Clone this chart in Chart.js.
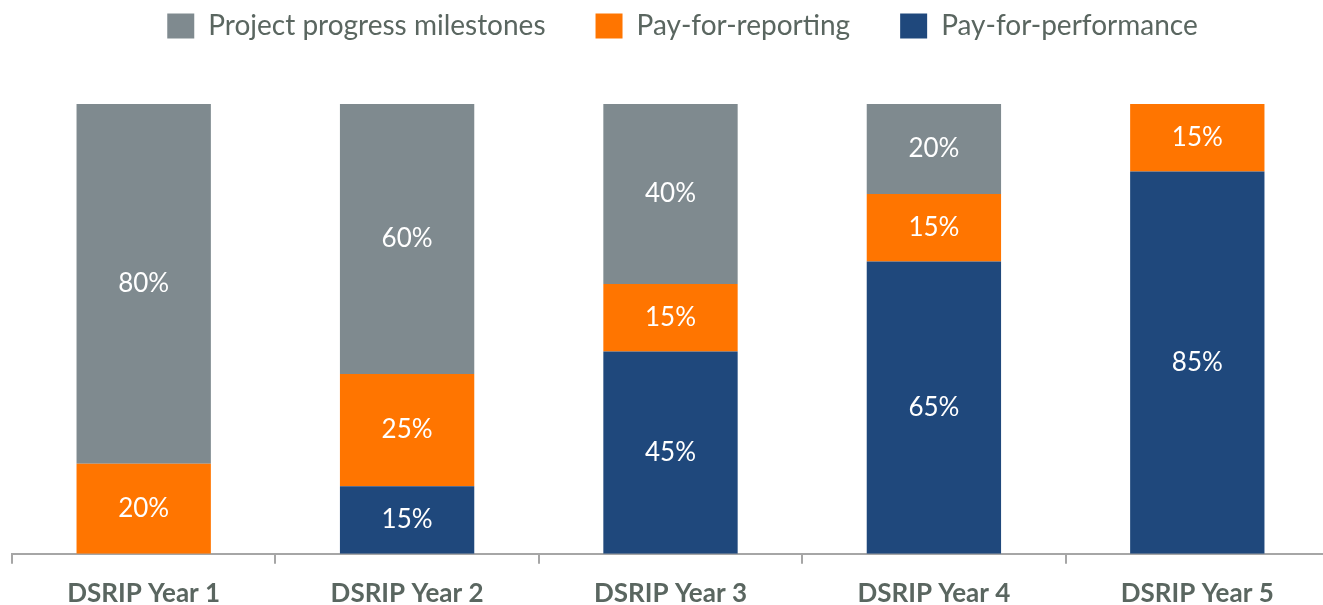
<!DOCTYPE html>
<html>
<head>
<meta charset="utf-8">
<script src="https://cdn.jsdelivr.net/npm/chart.js@4"></script>
<style>
  html, body { margin: 0; padding: 0; background: #fff; overflow: hidden; }
  #wrap { width: 1332px; height: 605px; }
</style>
</head>
<body>
<div id="wrap"><canvas id="chartDsrip"></canvas></div>
<script>
const years = ["DSRIP Year 1", "DSRIP Year 2", "DSRIP Year 3", "DSRIP Year 4", "DSRIP Year 5"];
const payForPerformance = [0, 15, 45, 65, 85];
const payForReporting = [20, 25, 15, 15, 15];
const projectMilestones = [80, 60, 40, 20, 0];

const textColor = "#5a6660";
const fontFamily = "Lato, 'Open Sans', sans-serif";

// white % labels in the middle of each segment
const segmentLabels = {
  id: "segmentLabels",
  afterDatasetsDraw(chart) {
    const ctx = chart.ctx;
    ctx.save();
    ctx.fillStyle = "#ffffff";
    ctx.font = "26px " + fontFamily;
    ctx.textAlign = "center";
    ctx.textBaseline = "middle";
    chart.data.datasets.forEach((ds, i) => {
      const meta = chart.getDatasetMeta(i);
      meta.data.forEach((bar, j) => {
        const v = ds.data[j];
        if (!v) return;
        ctx.fillText(v + "%", bar.x, (bar.y + bar.base) / 2);
      });
    });
    ctx.restore();
  },
};

// push the plot down below the legend, nudge legend a bit right
const legendTweak = {
  id: "legendTweak",
  beforeInit(chart) {
    const lg = chart.legend;
    const origFit = lg.fit;
    lg.fit = function () {
      origFit.call(lg);
      this.height += 54;
    };
    const origDraw = lg.draw;
    lg.draw = function () {
      chart.ctx.save();
      chart.ctx.translate(12, 0);
      origDraw.apply(lg, arguments);
      chart.ctx.restore();
    };
  },
};

const ctx = document.getElementById("chartDsrip").getContext("2d");
const dsripChart = new Chart(ctx, {
  type: "bar",
  data: {
    labels: years,
    datasets: [
      {
        label: "Pay-for-performance",
        data: payForPerformance,
        backgroundColor: "#1f487c",
      },
      {
        label: "Pay-for-reporting",
        data: payForReporting,
        backgroundColor: "#ff7500",
      },
      {
        label: "Project progress milestones",
        data: projectMilestones,
        backgroundColor: "#7f8a8f",
      },
    ],
  },
  options: {
    responsive: true,
    maintainAspectRatio: false,
    animation: false,
    layout: { padding: { left: 12, right: 3, top: -38, bottom: -18 } },
    datasets: {
      bar: { categoryPercentage: 1.0, barPercentage: 0.51, borderWidth: 0 },
    },
    scales: {
      x: {
        stacked: true,
        grid: {
          offset: true,
          drawOnChartArea: false,
          drawTicks: true,
          tickLength: 10,
          color: "#a6a6a6",
          lineWidth: 2,
        },
        border: { color: "#a6a6a6", width: 2 },
        ticks: {
          color: textColor,
          font: { family: fontFamily, size: 26, weight: "bold" },
          padding: 14,
        },
      },
      y: {
        stacked: true,
        display: false,
        min: 0,
        max: 100,
      },
    },
    plugins: {
      tooltip: { enabled: false },
      legend: {
        reverse: true,
        labels: {
          color: textColor,
          boxWidth: 27,
          boxHeight: 25,
          padding: 50,
          font: { family: fontFamily, size: 28 },
        },
      },
    },
  },
  plugins: [segmentLabels, legendTweak],
});
</script>
</body>
</html>
